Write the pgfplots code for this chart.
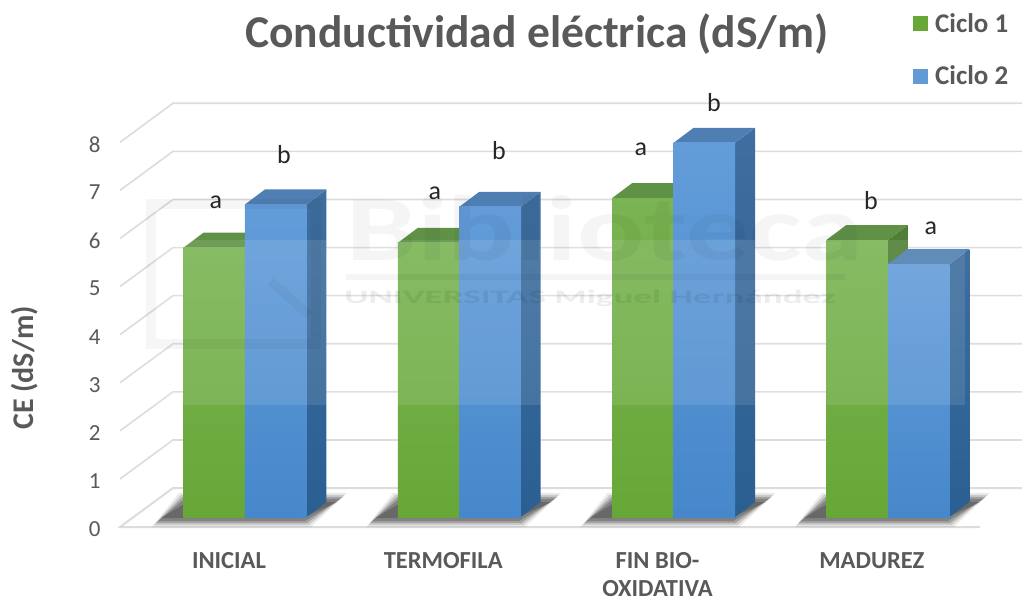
\documentclass[border=0pt]{standalone}
\usepackage{fontspec}
\setmainfont{Carlito}
\usepackage{pgfplots}
\pgfplotsset{compat=1.18}
\definecolor{txt}{HTML}{595959}
\definecolor{gridc}{HTML}{DCDCDC}
\definecolor{gTop}{HTML}{5F9147}
\definecolor{gSideA}{HTML}{4F7F36}
\definecolor{gSideB}{HTML}{4A7A2C}
\definecolor{gFrontA}{HTML}{7AB453}
\definecolor{gFrontB}{HTML}{67A737}
\definecolor{bTop}{HTML}{4F7FB2}
\definecolor{bSideA}{HTML}{3F6E9F}
\definecolor{bSideB}{HTML}{2A5F92}
\definecolor{bFrontA}{HTML}{639CD9}
\definecolor{bFrontB}{HTML}{4688CB}

% horizontal unit of one category and vertical unit of one dS/m, in points
\def\catw{214.33}
\def\unit{48.1}
\pgfmathsetmacro{\depthx}{20/\catw}
\pgfmathsetmacro{\depthy}{15/\unit}
\pgfmathsetmacro{\barw}{61.5/\catw}

% one 3D column: side and top faces, then the front face as a real bar
% #1 category, #2 value, #3 series sign (-1 left, 1 right), #4 prefix of the colours
\newcommand{\column}[4]{%
  \pgfmathsetmacro{\xl}{#1+(#3-1)/2*\barw}
  \pgfmathsetmacro{\xr}{\xl+\barw}
  \pgfmathsetmacro{\xrb}{\xr+\depthx}
  \pgfmathsetmacro{\xlb}{\xl+\depthx}
  \pgfmathsetmacro{\vb}{#2+\depthy}
  \addplot[forget plot,draw=none,top color=#4SideA,bottom color=#4SideB]
    coordinates {(\xr,0) (\xr,#2) (\xrb,\vb) (\xrb,\depthy)} -- cycle;
  \addplot[forget plot,draw=none,fill=#4Top]
    coordinates {(\xl,#2) (\xr,#2) (\xrb,\vb) (\xlb,\vb)} -- cycle;
  \addplot[forget plot,ybar,bar width=61.5pt,bar shift=#3*30.75pt,draw=none,
           top color=#4FrontA,bottom color=#4FrontB]
    coordinates {(#1,#2)};
}

% one layer of the soft floor shadow: #1 category, #2 growth in points, #3 opacity
\newcommand{\shadowlayer}[3]{%
  \pgfmathsetmacro{\sa}{#1+(-89-#2)/\catw}
  \pgfmathsetmacro{\sb}{#1+(62+#2)/\catw}
  \pgfmathsetmacro{\sc}{#1+(98+#2)/\catw}
  \pgfmathsetmacro{\sd}{#1+(-62-#2)/\catw}
  \pgfmathsetmacro{\ylo}{-0.125-#2/\unit}
  \pgfmathsetmacro{\yhi}{0.42+#2/\unit}
  \addplot[forget plot,draw=none,fill=black,opacity=#3]
    coordinates {(\sa,\ylo) (\sb,\ylo) (\sc,\yhi) (#1,\yhi) (\sd,\yhi)} -- cycle;
}
\newcommand{\floorshadow}[1]{%
  \shadowlayer{#1}{4}{.08}\shadowlayer{#1}{2}{.14}
  \shadowlayer{#1}{0}{.2}\shadowlayer{#1}{-2}{.2}\shadowlayer{#1}{-5}{.2}
}

% significance letter, given by its place on the canvas
\newcommand{\sigletter}[3]{%
  \pgfmathsetmacro{\lx}{(#1-245)/\catw}
  \pgfmathsetmacro{\ly}{(517-#2)/\unit}
  \edef\tmp{\noexpand\node[text=black!85,font=\noexpand\fontsize{26}{28}\noexpand\selectfont]
    at (axis cs:\lx,\ly) {#3};}\tmp
}

\begin{document}
\begin{tikzpicture}
\begin{axis}[
  scale only axis,
  width=904pt,height=530pt,
  xmin=-0.5925,xmax=3.6257,
  ymin=-0.2703,ymax=10.7484,
  axis line style={draw=none},
  major tick length=0pt,
  /pgf/number format/assume math mode=true,
  xtick={0,1,2,3},
  xticklabels={INICIAL,TERMOFILA,FIN BIO-\\OXIDATIVA,MADUREZ},
  xticklabel style={align=center,text=txt,font=\fontsize{24.5}{28}\selectfont\bfseries,
    xshift=-16pt,yshift=-19pt,anchor=north,text depth=0pt},
  ytick={-0.2079,0.7921,1.7921,2.7921,3.7921,4.7921,5.7921,6.7921,7.7921},
  yticklabels={0,1,2,3,4,5,6,7,8},
  yticklabel style={text=txt,font=\fontsize{23}{24}\selectfont,xshift=-14pt,yshift=-2pt},
  title={Conductividad eléctrica (dS/m)},
  title style={at={(axis description cs:0.4635,0.9245)},anchor=center,text=txt,
    font=\fontsize{45.5}{48}\selectfont\bfseries},
  ylabel={CE (dS/m)},
  ylabel style={at={(axis description cs:-0.1029,0.3057)},anchor=center,text=txt,
    font=\fontsize{30}{32}\selectfont\bfseries},
  legend style={at={(axis description cs:0.8794,0.977)},anchor=north west,draw=none,fill=none,
    font=\fontsize{27}{29}\selectfont\bfseries,text=txt,
    row sep=30pt,inner sep=0pt,nodes={inner sep=1pt}},
  legend cell align=left,
  legend image code/.code={\fill[#1,draw=none] (0pt,-7.5pt) rectangle (15pt,7.5pt);
    \path[draw=none,fill=none] (0pt,0pt) -- (21pt,0pt);},
]
% gridlines on the side and back walls
\pgfplotsinvokeforeach{1,2,3,4,5,6,7,8}{
  \addplot[forget plot,gridc,line width=1.6pt] table[row sep=\\,y expr=\thisrow{y}+#1] {
    x y \\
    -0.5833 -0.2079 \\
    -0.3359 0.6029 \\
    3.6300 0.6029 \\
  };
}
% floor
\addplot[forget plot,gridc,line width=2pt] table {
  x y
  3.4308 -0.2079
  -0.5833 -0.2079
  -0.3359 0.6029
  3.6300 0.6029
};

\floorshadow{0}\floorshadow{1}\floorshadow{2}\floorshadow{3}

% Ciclo 1 and Ciclo 2
\column{0}{5.6}{-1}{g}\column{0}{6.5}{1}{b}
\column{1}{5.7}{-1}{g}\column{1}{6.45}{1}{b}
\column{2}{6.63}{-1}{g}\column{2}{7.78}{1}{b}
\column{3}{5.76}{-1}{g}\column{3}{5.26}{1}{b}

\addlegendimage{fill=gFrontB}\addlegendentry{Ciclo 1}
\addlegendimage{fill=bFrontB!85!white}\addlegendentry{Ciclo 2}

\sigletter{216}{202}{a}\sigletter{284}{154}{b}
\sigletter{435}{193}{a}\sigletter{499}{150}{b}
\sigletter{641}{149}{a}\sigletter{714}{102}{b}
\sigletter{871}{200}{b}\sigletter{931}{228}{a}

% library watermark
\fill[white,opacity=.10] (axis cs:-0.44,2.33) rectangle (axis cs:3.36,5.76);
\node[text=black,opacity=.04,transform shape,xscale=1.35,
      font=\fontsize{93}{93}\selectfont\bfseries,anchor=center]
  at (axis cs:1.68,6.0) {Biblioteca};
\draw[black,opacity=.04,line width=6pt] (axis cs:0.47,4.99) -- (axis cs:2.80,4.99);
\node[text=black,opacity=.07,transform shape,xscale=1.95,
      font=\fontsize{19}{20}\selectfont\bfseries,anchor=center]
  at (axis cs:1.61,4.55) {UNIVERSITAS Miguel Hernández};
\draw[black,opacity=.035,line width=10pt]
  (axis cs:-0.44,6.5) -- (axis cs:0.33,6.5) -- (axis cs:0.33,3.6)
  -- (axis cs:-0.44,3.6) -- cycle;
\draw[black,opacity=.035,line width=9pt]
  (axis cs:0.12,4.9) -- (axis cs:0.30,4.2);
\end{axis}
\path (-118pt,-70pt) rectangle (904pt,530pt);
\end{tikzpicture}
\end{document}
